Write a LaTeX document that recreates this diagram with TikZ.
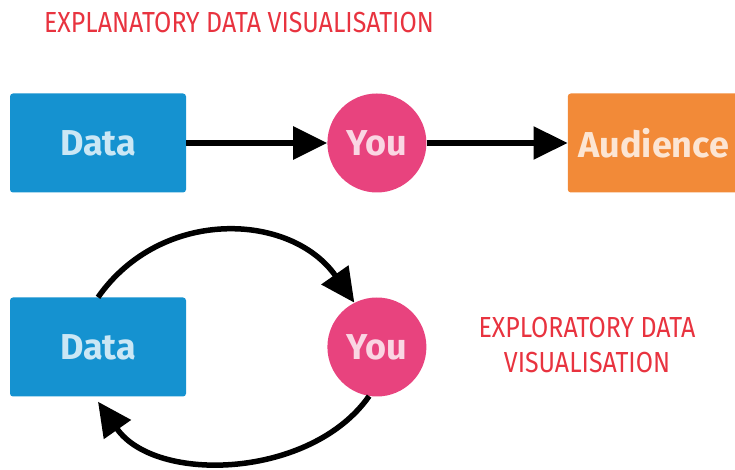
\documentclass[tikz,border=0pt]{standalone}
\usepackage{fontspec}
\setmainfont{Fira Sans}
\newfontfamily\headfont[FakeStretch=0.86]{Fira Sans}
\usetikzlibrary{arrows.meta,positioning}

\definecolor{datablue}{HTML}{1592D0}
\definecolor{youpink}{HTML}{E8437E}
\definecolor{audorange}{HTML}{F28A38}
\definecolor{headred}{HTML}{E8333F}

\begin{document}
\begin{tikzpicture}[x=1pt,y=1pt,
  databox/.style={rectangle,rounded corners=3pt,minimum width=176pt,minimum height=99pt,fill=datablue,text=datablue!22!white,font=\bfseries\fontsize{36}{36}\selectfont},
  audbox/.style={rectangle,rounded corners=3pt,minimum width=172pt,minimum height=99pt,fill=audorange,text=audorange!22!white,font=\bfseries\fontsize{36}{36}\selectfont},
  you/.style={circle,minimum size=99pt,inner sep=0pt,fill=youpink,text=youpink!22!white,font=\bfseries\fontsize{36}{36}\selectfont},
  head/.style={text=headred,font=\headfont\fontsize{29}{35}\selectfont,align=center},
  arr/.style={-{Triangle[length=34pt,width=32pt]},line width=5.5pt},
  node distance=141pt
]
  \useasboundingbox (0,0) rectangle (735,470);

  % explanatory
  \node[head] (explan) at (239,447) {EXPLANATORY DATA VISUALISATION};
  \node[databox] (data1) at (98,327) {Data};
  \node[you,right=of data1] (you1) {You};
  \node[audbox,right=of you1] (aud) {Audience};
  \draw[arr] (data1) -- (you1);
  \draw[arr] (you1) -- (aud);

  % exploratory
  \node[databox] (data2) at (98,123) {Data};
  \node[you,right=of data2] (you2) {You};
  \node[head] (explor) at (587,125) {EXPLORATORY DATA\\VISUALISATION};
  \draw[arr] (data2.north) to[out=55,in=125,looseness=1.1] (you2.117);
  \draw[arr] (you2.261) to[out=235,in=305,looseness=0.95] ([yshift=-5pt]data2.south);
\end{tikzpicture}
\end{document}
